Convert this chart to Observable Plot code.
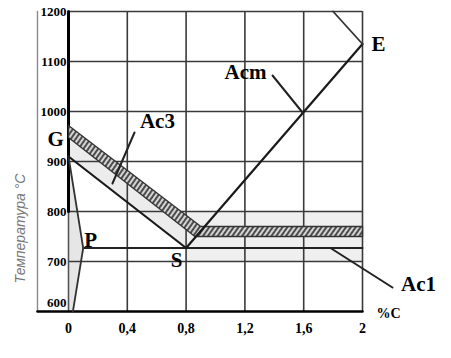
<!DOCTYPE html>
<html>
<head>
<meta charset="utf-8">
<script src="https://cdn.jsdelivr.net/npm/d3@7"></script>
<script src="https://cdn.jsdelivr.net/npm/@observablehq/plot@0.6"></script>
<style>
  html, body { margin: 0; padding: 0; background: white; }
</style>
</head>
<body>
<div id="chart"></div>
<script>
// ---- data (carbon % , temperature °C) ----
const xTicks = [0, 0.4, 0.8, 1.2, 1.6, 2];
const xTickLabels = ["0", "0,4", "0,8", "1,2", "1,6", "2"];
const yTicks = [600, 700, 800, 900, 1000, 1100, 1200];

const gridTemps = [700, 800, 900, 1000, 1100, 1200];
const gridCarbons = [0.4, 0.8, 1.2, 1.6, 2];

const lineGPQ = [{c: 0, t: 910}, {c: 0.1, t: 727}, {c: 0.03, t: 600}];
const lineGS = [{c: 0, t: 910}, {c: 0.8, t: 727}];
const lineSE = [{c: 0.8, t: 727}, {c: 2.0, t: 1135}];
const lineAE = [{c: 1.8, t: 1200}, {c: 2.0, t: 1135}];
const linePS = [{c: 0.1, t: 727}, {c: 2.0, t: 727}];

const bandAc3 = [
  {c: 0, t: 972}, {c: 0.9, t: 770}, {c: 2.0, t: 770},
  {c: 2.0, t: 750}, {c: 0.86, t: 750}, {c: 0, t: 948}, {c: 0, t: 972}
];
const shadeLeft = [{c: 0, t: 910}, {c: 0.1, t: 727}, {c: 0.03, t: 600}, {c: 0, t: 600}];
const shadeStrip = [{c: 0, t: 910}, {c: 0, t: 948}, {c: 0.86, t: 750}, {c: 0.8, t: 727}];
const shadeRight = [{c1: 0.8, c2: 2.0, t1: 700, t2: 800}];

const pointerAcm = [{c: 1.388, t: 1072}, {c: 1.592, t: 998}];
const pointerAc3 = [{c: 0.449, t: 958}, {c: 0.299, t: 856}];
const pointerAc1 = [{c: 1.782, t: 727}, {c: 2.204, t: 648}];

const pointLabels = [
  {name: "G", c: -0.088, t: 945},
  {name: "Ac3", c: 0.605, t: 980},
  {name: "Acm", c: 1.204, t: 1078},
  {name: "E", c: 2.109, t: 1134},
  {name: "P", c: 0.150, t: 742},
  {name: "S", c: 0.735, t: 702},
  {name: "Ac1", c: 2.381, t: 654}
];
const unitLabel = [{name: "%C", c: 2.177, t: 596}];
const yTitle = [{name: "Температура °C", c: -0.327, t: 766}];
const frameLeft = [{c: -0.211, t: 600}, {c: -0.211, t: 1200}];
const frameBottom = [{c: -0.211, t: 600}, {c: 2.0, t: 600}];
const axisUpper = [{c: 0, t: 800}, {c: 0, t: 1200}];
const axisLower = [{c: 0, t: 600}, {c: 0, t: 800}];

const serif = "Liberation Serif";
const gridColor = "#3a3a3a";
const tickStyle = {fontWeight: "bold", fontFamily: serif, fill: "#000"};

const chart = Plot.plot({
  width: 451,
  height: 358,
  marginTop: 11,
  marginBottom: 47,
  marginLeft: 68,
  marginRight: 89,
  x: {domain: [0, 2], axis: null},
  y: {domain: [600, 1200], axis: null},
  style: {background: "white", fontFamily: serif, overflow: "visible"},
  marks: [
    // light shading
    Plot.line(shadeLeft, {x: "c", y: "t", fill: "#e6e6e6", stroke: "none"}),
    Plot.line(shadeStrip, {x: "c", y: "t", fill: "#ececec", stroke: "none"}),
    Plot.rect(shadeRight, {x1: "c1", x2: "c2", y1: "t1", y2: "t2", fill: "#efefef"}),
    // grid
    Plot.ruleY(gridTemps, {x1: 0, x2: 2, stroke: gridColor, strokeWidth: 1.6}),
    Plot.ruleX(gridCarbons, {y1: 600, y2: 1200, stroke: gridColor, strokeWidth: 1.6}),
    // frame
    Plot.line(frameLeft, {x: "c", y: "t", stroke: "#8a8a8a", strokeWidth: 1.4}),
    Plot.line(axisLower, {x: "c", y: "t", stroke: "#555", strokeWidth: 1.6}),
    Plot.line(axisUpper, {x: "c", y: "t", stroke: "#000", strokeWidth: 3}),
    Plot.line(frameBottom, {x: "c", y: "t", stroke: "#000", strokeWidth: 2.5}),
    // Ac3 hatched band
    Plot.line(bandAc3, {x: "c", y: "t", fill: "url(#hatch)", stroke: "#333", strokeWidth: 1.4}),
    // phase lines
    Plot.line(linePS, {x: "c", y: "t", stroke: "#222", strokeWidth: 1.8}),
    Plot.line(lineGPQ, {x: "c", y: "t", stroke: "#333", strokeWidth: 1.8}),
    Plot.line(lineGS, {x: "c", y: "t", stroke: "#1a1a1a", strokeWidth: 2.2}),
    Plot.line(lineSE, {x: "c", y: "t", stroke: "#1a1a1a", strokeWidth: 2.2}),
    Plot.line(lineAE, {x: "c", y: "t", stroke: "#333", strokeWidth: 1.8}),
    // pointers
    Plot.line(pointerAcm, {x: "c", y: "t", stroke: "#222", strokeWidth: 2}),
    Plot.line(pointerAc3, {x: "c", y: "t", stroke: "#222", strokeWidth: 2}),
    Plot.line(pointerAc1, {x: "c", y: "t", stroke: "#222", strokeWidth: 2}),
    // tick labels (through scales)
    Plot.text(yTicks.filter(d => d > 600), {
      x: 0, y: d => d, text: d => String(d), textAnchor: "end", dx: -2, fontSize: 13, ...tickStyle
    }),
    Plot.text(yTicks.filter(d => d === 600), {
      x: 0, y: d => d, text: d => String(d), textAnchor: "end", dx: -2, dy: -9, fontSize: 13, ...tickStyle
    }),
    Plot.text(xTicks, {
      x: d => d, y: 600, text: (d, i) => xTickLabels[i], dy: 17, fontSize: 14, ...tickStyle
    }),
    // labels
    Plot.text(pointLabels, {x: "c", y: "t", text: "name", fontSize: 21, fontWeight: "bold", fontFamily: serif, fill: "#000"}),
    Plot.text(unitLabel, {x: "c", y: "t", text: "name", fontSize: 14, fontWeight: "bold", fontFamily: serif, fill: "#000"}),
    Plot.text(yTitle, {x: "c", y: "t", text: "name", rotate: -90, fontSize: 14, fontStyle: "italic",
      fontFamily: "Liberation Sans", fill: "#777"})
  ]
});

// hatch pattern definition
const ns = "http://www.w3.org/2000/svg";
const defs = document.createElementNS(ns, "defs");
const pat = document.createElementNS(ns, "pattern");
pat.setAttribute("id", "hatch");
pat.setAttribute("patternUnits", "userSpaceOnUse");
pat.setAttribute("width", "4");
pat.setAttribute("height", "4");
pat.setAttribute("patternTransform", "rotate(35)");
const bg = document.createElementNS(ns, "rect");
bg.setAttribute("width", "4"); bg.setAttribute("height", "4"); bg.setAttribute("fill", "#d4d4d4");
const ln = document.createElementNS(ns, "line");
ln.setAttribute("x1", "1"); ln.setAttribute("y1", "0"); ln.setAttribute("x2", "1"); ln.setAttribute("y2", "4");
ln.setAttribute("stroke", "#2a2a2a"); ln.setAttribute("stroke-width", "1.6");
pat.appendChild(bg); pat.appendChild(ln);
defs.appendChild(pat);
chart.insertBefore(defs, chart.firstChild);

document.getElementById("chart").appendChild(chart);
</script>
</body>
</html>
